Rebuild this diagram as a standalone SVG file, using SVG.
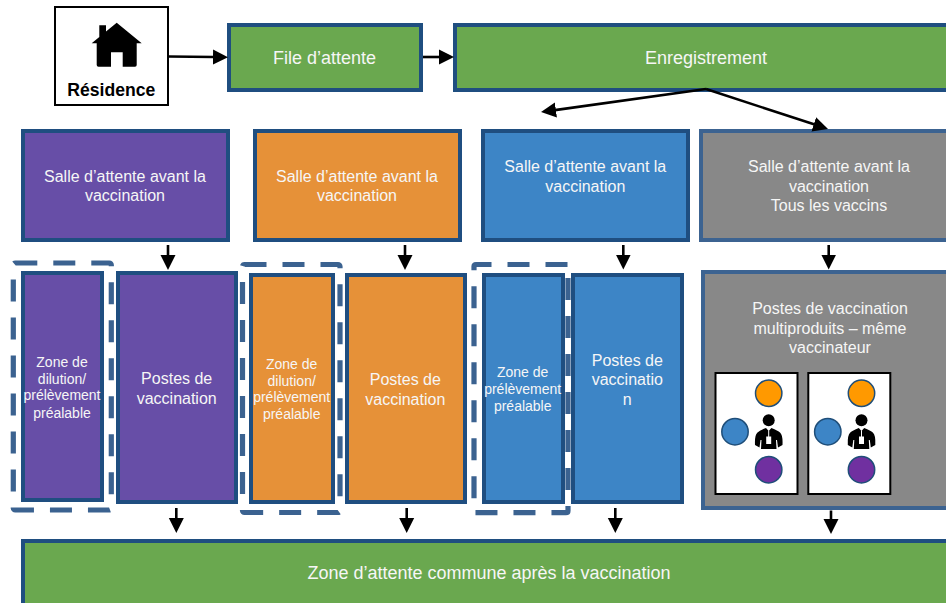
<svg xmlns="http://www.w3.org/2000/svg" width="946" height="603" viewBox="0 0 946 603">
<style>
text{font-family:"Liberation Sans",Arial,sans-serif;font-size:16px;fill:#f6f6f6;text-anchor:middle}
text.s{font-size:14px}
text.l{font-size:18px}
text.b{font-size:17.6px;font-weight:bold;fill:#000}
.box{stroke:#1f4e80;stroke-width:4}
.greybox{fill:#888888;stroke:#3c6391;stroke-width:4}
.g{fill:#6aa84f}.p{fill:#674ea7}.o{fill:#e69138}.u{fill:#3d85c6}
.dash{fill:none;stroke:#3b6290;stroke-width:5.2;stroke-dasharray:22 16}
.panel{fill:#fff;stroke:#000;stroke-width:2}
.c{stroke:#1f4e79;stroke-width:1.5}
.conn line{stroke:#000;stroke-width:2.6;marker-end:url(#ah)}
</style>
<defs>
<marker id="ah" markerUnits="userSpaceOnUse" markerWidth="16" markerHeight="16" refX="1" refY="8" orient="auto" viewBox="0 0 16 16"><path d="M0 0.500L15 8L0 15.500Z" fill="#000"/></marker>
<g id="station">
<circle class="c" cx="53.2" cy="20.3" r="13.2" fill="#ff9900"/>
<circle class="c" cx="19.5" cy="58.7" r="13.2" fill="#3d85c6"/>
<circle class="c" cx="53.2" cy="96.7" r="13.2" fill="#7030a0"/>
<circle cx="53.2" cy="47.3" r="6" fill="#000"/>
<path d="M39.500 72Q39 62 42 59.500Q44 57.500 50.500 55L53.200 58L55.900 55Q62.500 57.500 64.500 59.500Q67.500 62 67 72L62.500 74.500L61.500 67H60.500L61 76H45.500L46 67H45L44 74.500Z" fill="#000"/>
<path d="M50.700 63.500H55.700V71H50.700Z M52.700 57.500H53.700V63.500H52.700Z" fill="#fff"/>
</g>
</defs>
<rect width="946" height="603" fill="#fff"/>
<g id="zones">
<rect id="zone-purple-frame" class="dash" x="13.300" y="263" width="98" height="247" rx="2"/>
<rect id="zone-orange-frame" class="dash" x="242.500" y="264.500" width="97.500" height="248" rx="2"/>
<path id="zone-blue-frame" class="dash" d="M567.500 264.500H476Q474 264.500 474 266.500V512.700H566Q568 512.700 568 510.700V266.500Q568 264.500 566 264.500"/>
</g>
<g id="residence">
<rect class="panel" x="55" y="7" width="113" height="98"/>
<path d="M116.700 22.700L141.700 43.300H136.700V65Q136.700 66.700 135 66.700H122.700V52.300H111V66.700H98.500Q96.700 66.700 96.700 64.900V43.300H91.700L99.300 37V25.300H106V31.500Z" fill="#000"/>
<text class="b" x="111.300" y="96">Résidence</text>
</g>
<g id="file-attente">
<rect class="box g" x="229" y="25" width="192" height="65"/>
<text class="l" x="324.500" y="64">File d’attente</text>
</g>
<g id="enregistrement">
<rect class="box g" x="455" y="25" width="510" height="65"/>
<text class="l" x="706" y="64">Enregistrement</text>
</g>
<g id="salle-violet">
<rect class="box p" x="23" y="131" width="205" height="109"/>
<text x="125" y="182">Salle d’attente avant la</text>
<text x="125" y="201">vaccination</text>
</g>
<g id="salle-orange">
<rect class="box o" x="255" y="131" width="205" height="109"/>
<text x="357" y="182">Salle d’attente avant la</text>
<text x="357" y="201">vaccination</text>
</g>
<g id="salle-bleu">
<rect class="box u" x="483" y="131" width="205" height="109"/>
<text x="585.300" y="172">Salle d’attente avant la</text>
<text x="585.300" y="192">vaccination</text>
</g>
<g id="salle-gris">
<rect class="greybox" x="701" y="131" width="270" height="109"/>
<text x="829" y="172">Salle d’attente avant la</text>
<text x="829" y="192">vaccination</text>
<text x="829" y="211">Tous les vaccins</text>
</g>
<g id="zone-violet">
<rect class="box p" x="23" y="273" width="79" height="227"/>
<text class="s" x="62" y="366.700">Zone de</text>
<text class="s" x="62" y="383.500">dilution/</text>
<text class="s" x="62" y="400.300">prélèvement</text>
<text class="s" x="62" y="417.500">préalable</text>
</g>
<g id="postes-violet">
<rect class="box p" x="118" y="273" width="118" height="229"/>
<text x="176.700" y="384.300">Postes de</text>
<text x="176.700" y="404.300">vaccination</text>
</g>
<g id="zone-orange">
<rect class="box o" x="251" y="275" width="82" height="227"/>
<text class="s" x="291.700" y="369.300">Zone de</text>
<text class="s" x="291.700" y="385.500">dilution/</text>
<text class="s" x="291.700" y="402.300">prélèvement</text>
<text class="s" x="291.700" y="419.300">préalable</text>
</g>
<g id="postes-orange">
<rect class="box o" x="347" y="275" width="118" height="227"/>
<text x="405.300" y="385.300">Postes de</text>
<text x="405.300" y="405.300">vaccination</text>
</g>
<g id="zone-bleu">
<rect class="box u" x="484" y="275" width="79" height="227"/>
<text class="s" x="522.700" y="377.300">Zone de</text>
<text class="s" x="522.700" y="394.300">prélèvement</text>
<text class="s" x="522.700" y="411.300">préalable</text>
</g>
<g id="postes-bleu">
<rect class="box u" x="573" y="275" width="109" height="227"/>
<text x="627.300" y="366">Postes de</text>
<text x="627.300" y="385">vaccinatio</text>
<text x="627.300" y="405.300">n</text>
</g>
<g id="postes-multiproduits">
<rect class="greybox" x="703" y="272" width="270" height="236"/>
<text x="830" y="314">Postes de vaccination</text>
<text x="830" y="334">multiproduits – même</text>
<text x="830" y="353.300">vaccinateur</text>
<rect class="panel" x="715.500" y="373" width="82" height="121"/>
<rect class="panel" x="808.300" y="373" width="82" height="121"/>
<use href="#station" x="715.500" y="373"/>
<use href="#station" x="808.300" y="373"/>
</g>
<g id="zone-commune">
<rect class="box g" x="23" y="541" width="950" height="90"/>
<text class="l" x="489" y="579">Zone d’attente commune après la vaccination</text>
</g>
<g id="connectors" class="conn">
<line x1="168.500" y1="56.500" x2="214" y2="57"/>
<line x1="423" y1="57" x2="440" y2="57"/>
<line x1="706" y1="89" x2="554.900" y2="110.100"/>
<line x1="706" y1="89" x2="814.700" y2="124.600"/>
<line x1="168" y1="245" x2="168" y2="256"/>
<line x1="405" y1="245" x2="405" y2="256"/>
<line x1="623.300" y1="245" x2="623.300" y2="255.500"/>
<line x1="828.700" y1="245" x2="828.700" y2="255.500"/>
<line x1="176.300" y1="508" x2="176.300" y2="519"/>
<line x1="406.700" y1="508" x2="406.700" y2="519"/>
<line x1="615.300" y1="508" x2="615.300" y2="519"/>
<line x1="831" y1="510.500" x2="831" y2="520"/>
</g>
</svg>
